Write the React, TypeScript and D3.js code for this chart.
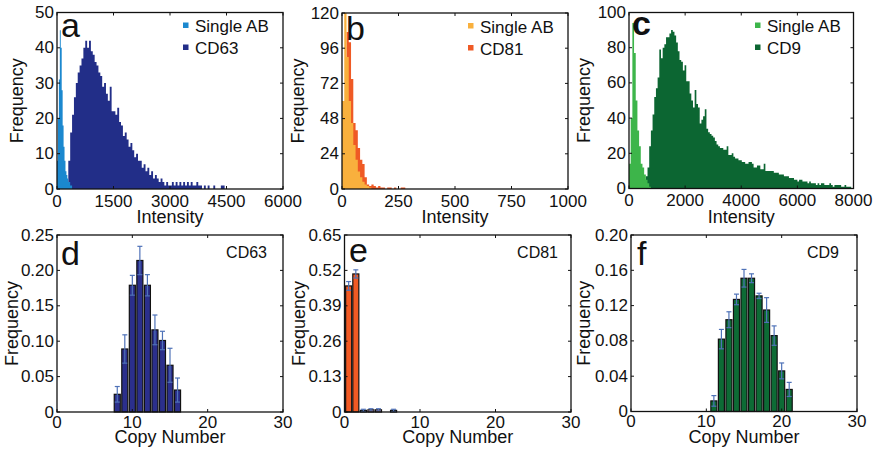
import React from "react";
import * as d3 from "d3";

const FONT = "'Liberation Sans', Arial, Helvetica, sans-serif";

// ---------- Panel a (CD63 intensity histogram) ----------
const aSingleStart = 0;
const aSingleBin = 25;
const aSingleValues = [8, 20, 31, 45, 40, 28, 18, 12, 8, 5, 4, 3, 2, 2, 1, 1];
const aCD63Start = 250;
const aCD63Bin = 50;
const aCD63Values = [
  2, 8, 16, 21, 26, 30, 33, 35, 37, 40, 42, 40, 42, 39, 38, 36, 35, 33, 32, 29,
  30, 27, 25, 29, 22, 22, 21, 23, 19, 18, 15, 16, 14, 12, 13, 11, 9, 10, 8, 8,
  6, 7, 5, 6, 4, 5, 3, 4, 3, 2, 3, 2, 1, 2, 1, 1, 2, 1, 2, 1,
  2, 1, 2, 1, 2, 1, 2, 1, 1, 2, 1, 1, 0, 1, 0, 1, 0, 0, 1, 0,
  0, 0, 1, 1, 0,
];
const aXTicks = [0, 1500, 3000, 4500, 6000];
const aYTicks = [0, 10, 20, 30, 40, 50];

// ---------- Panel b (CD81 intensity histogram) ----------
const bSingleStart = 0;
const bSingleBin = 10;
const bSingleValues = [60, 120, 90, 60, 45, 30, 20, 12, 8, 5, 3, 2, 1];
const bCD81Start = 0;
const bCD81Bin = 10;
const bCD81Values = [
  0, 60, 107, 100, 75, 45, 40, 28, 20, 17, 8, 3, 2, 3, 2, 1, 2, 1, 1, 0,
  1, 1, 0, 1, 0, 0, 1, 1,
];
const bXTicks = [0, 250, 500, 750, 1000];
const bYTicks = [0, 24, 48, 72, 96, 120];

// ---------- Panel c (CD9 intensity histogram) ----------
const cSingleStart = 0;
const cSingleBin = 60;
const cSingleValues = [14, 40, 94, 77, 50, 33, 24, 14, 12, 8, 5, 3, 1];
const cCD9Start = 480;
const cCD9Bin = 60;
const cCD9Values = [
  3, 5, 7, 12, 24, 33, 42, 52, 57, 63, 79, 74, 80, 82, 86, 86, 88, 90, 89, 87,
  83, 78, 73, 72, 67, 70, 61, 61, 54, 50, 46, 56, 48, 46, 37, 39, 41, 45, 34, 32,
  31, 30, 29, 27, 25, 24, 23, 23, 22, 22, 24, 19, 19, 20, 18, 17, 17, 16, 16, 15,
  15, 14, 14, 15, 15, 14, 12, 12, 13, 13, 11, 11, 14, 10, 10, 10, 10, 10, 9, 9,
  9, 8, 8, 8, 7, 7, 7, 6, 6, 6, 5, 5, 4, 5, 5, 4, 4, 4, 3, 4,
  3, 3, 3, 2, 3, 2, 3, 3, 2, 2, 2, 3, 2, 1, 2, 2, 2, 2, 1, 1,
  2, 1, 1, 1, 0,
];
const cXTicks = [0, 2000, 4000, 6000, 8000];
const cYTicks = [0, 20, 40, 60, 80, 100];

// ---------- Panel d (CD63 copy number) ----------
const dCopy = [8, 9, 10, 11, 12, 13, 14, 15, 16];
const dFreq = [0.025, 0.089, 0.179, 0.214, 0.179, 0.116, 0.101, 0.066, 0.031];
const dErr = [0.011, 0.02, 0.014, 0.02, 0.015, 0.021, 0.013, 0.024, 0.017];
const dYTicks = [0, 0.05, 0.1, 0.15, 0.2, 0.25];
const dYLabels = ["0", "0.05", "0.10", "0.15", "0.20", "0.25"];

// ---------- Panel e (CD81 copy number) ----------
const eCopy = [0.55, 1.5, 2.5, 3.5, 4.5, 6.5];
const eFreq = [0.463, 0.507, 0.006, 0.008, 0.008, 0.006];
const eErr = [0.016, 0.015, 0.004, 0.004, 0.004, 0.004];
const eYTicks = [0, 0.13, 0.26, 0.39, 0.52, 0.65];
const eYLabels = ["0", "0.13", "0.26", "0.39", "0.52", "0.65"];

// ---------- Panel f (CD9 copy number) ----------
const fCopy = [11, 12, 13, 14, 15, 16, 17, 18, 19, 20, 21];
const fFreq = [0.012, 0.082, 0.104, 0.127, 0.151, 0.151, 0.131, 0.115, 0.086, 0.046, 0.025];
const fErr = [0.006, 0.011, 0.009, 0.006, 0.01, 0.005, 0.003, 0.014, 0.011, 0.009, 0.008];
const fYTicks = [0, 0.04, 0.08, 0.12, 0.16, 0.2];
const fYLabels = ["0", "0.04", "0.08", "0.12", "0.16", "0.20"];

const copyXTicks = [0, 10, 20, 30];

type Series = { start: number; bin: number; values: number[]; color: string };

type Box = { x0: number; x1: number; y0: number; y1: number };

function Frame({ box, xs, ys, xTicks, yTicks, yLabels, xLabelDy, freqX, xTitle, xTitleDy }: any) {
  const tl = 3;
  return (
    <g>
      <rect x={box.x0} y={box.y0} width={box.x1 - box.x0} height={box.y1 - box.y0} fill="none" stroke="#111" strokeWidth={1.3} />
      {xTicks.map((t: number, i: number) => (
        <g key={"x" + i}>
          <line x1={xs(t)} x2={xs(t)} y1={box.y1} y2={box.y1 - tl} stroke="#111" strokeWidth={1} />
          <line x1={xs(t)} x2={xs(t)} y1={box.y0} y2={box.y0 + tl} stroke="#111" strokeWidth={1} />
          <text x={xs(t)} y={box.y1 + xLabelDy} textAnchor="middle" dominantBaseline="central" fontSize={17} fontFamily={FONT} fill="#111">
            {String(t)}
          </text>
        </g>
      ))}
      {yTicks.map((t: number, i: number) => (
        <g key={"y" + i}>
          <line x1={box.x0} x2={box.x0 + tl} y1={ys(t)} y2={ys(t)} stroke="#111" strokeWidth={1} />
          <line x1={box.x1} x2={box.x1 - tl} y1={ys(t)} y2={ys(t)} stroke="#111" strokeWidth={1} />
          <text x={box.x0 - 3} y={ys(t)} textAnchor="end" dominantBaseline="central" fontSize={17} fontFamily={FONT} fill="#111">
            {yLabels ? yLabels[i] : String(t)}
          </text>
        </g>
      ))}
      <text x={(box.x0 + box.x1) / 2} y={box.y1 + xTitleDy} textAnchor="middle" fontSize={18} fontFamily={FONT} fill="#111">
        {xTitle}
      </text>
      <text
        transform={`translate(${freqX},${(box.y0 + box.y1) / 2}) rotate(-90)`}
        textAnchor="middle"
        dominantBaseline="central"
        fontSize={18}
        fontFamily={FONT}
        fill="#111"
      >
        Frequency
      </text>
    </g>
  );
}

function HistPanel({ id, box, xMax, yMax, xTicks, yTicks, series, legend, legendX, letter, letterX, letterY, letterWeight, freqX }: any) {
  const xs = d3.scaleLinear().domain([0, xMax]).range([box.x0, box.x1]);
  const ys = d3.scaleLinear().domain([0, yMax]).range([box.y1, box.y0]);
  const area = d3
    .area<[number, number]>()
    .x((d) => xs(d[0]))
    .y0(ys(0))
    .y1((d) => ys(d[1]))
    .curve(d3.curveStepAfter);
  return (
    <g>
      <defs>
        <clipPath id={"clip" + id}>
          <rect x={box.x0} y={box.y0} width={box.x1 - box.x0} height={box.y1 - box.y0} />
        </clipPath>
      </defs>
      <g clipPath={`url(#clip${id})`}>
        {series.map((s: Series, i: number) => {
          const pts: [number, number][] = s.values.map((v, k) => [s.start + k * s.bin, v]);
          pts.push([s.start + s.values.length * s.bin, 0]);
          return <path key={i} d={area(pts) || ""} fill={s.color} stroke="none" />;
        })}
      </g>
      <Frame box={box} xs={xs} ys={ys} xTicks={xTicks} yTicks={yTicks} xLabelDy={12} freqX={freqX} xTitle="Intensity" xTitleDy={34} />
      {legend.map((l: any, i: number) => (
        <g key={i}>
          <rect x={legendX} y={box.y0 + 10 + i * 22} width={5.5} height={5.5} fill={l.color} />
          <text x={legendX + 12} y={box.y0 + 14 + i * 22} dominantBaseline="central" fontSize={17} fontFamily={FONT} fill="#111">
            {l.label}
          </text>
        </g>
      ))}
      <text x={letterX} y={letterY} fontSize={34} fontWeight={letterWeight || "normal"} fontFamily={FONT} fill="#111">
        {letter}
      </text>
    </g>
  );
}

function BarPanel({ box, yMax, yTicks, yLabels, copy, freq, err, color, name, letter, letterX, letterY, freqX, nameX }: any) {
  const xs = d3.scaleLinear().domain([0, 30]).range([box.x0, box.x1]);
  const ys = d3.scaleLinear().domain([0, yMax]).range([box.y1, box.y0]);
  const bw = xs(0.8) - xs(0);
  const cap = 2.5;
  const errColor = "#4f72b8";
  return (
    <g>
      {copy.map((c: number, i: number) => (
        <rect key={"b" + i} x={xs(c) - bw / 2} y={ys(freq[i])} width={bw} height={ys(0) - ys(freq[i])} fill={color} stroke="#111" strokeWidth={1.2} />
      ))}
      {copy.map((c: number, i: number) => {
        const top = ys(freq[i] + err[i]);
        const bot = ys(Math.max(0, freq[i] - err[i]));
        return (
          <g key={"e" + i} stroke={errColor} strokeWidth={1.2}>
            <line x1={xs(c)} x2={xs(c)} y1={top} y2={bot} />
            <line x1={xs(c) - cap} x2={xs(c) + cap} y1={top} y2={top} />
            <line x1={xs(c) - cap} x2={xs(c) + cap} y1={bot} y2={bot} />
          </g>
        );
      })}
      <Frame box={box} xs={xs} ys={ys} xTicks={copyXTicks} yTicks={yTicks} yLabels={yLabels} xLabelDy={10} freqX={freqX} xTitle="Copy Number" xTitleDy={31} />
      <text x={nameX} y={box.y0 + 23} textAnchor="end" fontSize={16} fontFamily={FONT} fill="#111">
        {name}
      </text>
      <text x={letterX} y={letterY} fontSize={34} fontFamily={FONT} fill="#111">
        {letter}
      </text>
    </g>
  );
}

export default function App() {
  const boxA: Box = { x0: 57, x1: 283, y0: 12.5, y1: 189 };
  const boxB: Box = { x0: 342, x1: 568, y0: 13, y1: 189 };
  const boxC: Box = { x0: 629, x1: 853.5, y0: 12.5, y1: 188.5 };
  const boxD: Box = { x0: 57, x1: 283, y0: 235, y1: 412 };
  const boxE: Box = { x0: 344.5, x1: 571, y0: 235, y1: 412 };
  const boxF: Box = { x0: 631, x1: 857, y0: 235, y1: 411.5 };
  return (
    <svg width={875} height={450} style={{ position: "absolute", left: 0, top: 0, background: "#fff" }}>
      <rect x={0} y={0} width={875} height={450} fill="#fff" />
      <HistPanel
        id="a"
        box={boxA}
        xMax={6000}
        yMax={50}
        xTicks={aXTicks}
        yTicks={aYTicks}
        series={[
          { start: aCD63Start, bin: aCD63Bin, values: aCD63Values, color: "#222e88" },
          { start: aSingleStart, bin: aSingleBin, values: aSingleValues, color: "#1b88cf" },
        ]}
        legend={[
          { label: "Single AB", color: "#1b88cf" },
          { label: "CD63", color: "#222e88" },
        ]}
        legendX={183}
        letter="a"
        letterX={61}
        letterY={37}
        freqX={17}
      />
      <HistPanel
        id="b"
        box={boxB}
        xMax={1000}
        yMax={120}
        xTicks={bXTicks}
        yTicks={bYTicks}
        series={[
          { start: bCD81Start, bin: bCD81Bin, values: bCD81Values, color: "#ef5a25" },
          { start: bSingleStart, bin: bSingleBin, values: bSingleValues, color: "#f9b03d" },
        ]}
        legend={[
          { label: "Single AB", color: "#f9b03d" },
          { label: "CD81", color: "#ef5a25" },
        ]}
        legendX={468}
        letter="b"
        letterX={346}
        letterY={40}
        freqX={298}
      />
      <HistPanel
        id="c"
        box={boxC}
        xMax={8000}
        yMax={100}
        xTicks={cXTicks}
        yTicks={cYTicks}
        series={[
          { start: cCD9Start, bin: cCD9Bin, values: cCD9Values, color: "#0c6632" },
          { start: cSingleStart, bin: cSingleBin, values: cSingleValues, color: "#3db54a" },
        ]}
        legend={[
          { label: "Single AB", color: "#3db54a" },
          { label: "CD9", color: "#0c6632" },
        ]}
        legendX={755}
        letter="c"
        letterX={632}
        letterY={35}
        letterWeight="bold"
        freqX={584}
      />
      <BarPanel
        box={boxD}
        yMax={0.25}
        yTicks={dYTicks}
        yLabels={dYLabels}
        copy={dCopy}
        freq={dFreq}
        err={dErr}
        color="#2b2f8c"
        name="CD63"
        nameX={267}
        letter="d"
        letterX={61}
        letterY={265}
        freqX={12}
      />
      <BarPanel
        box={boxE}
        yMax={0.65}
        yTicks={eYTicks}
        yLabels={eYLabels}
        copy={eCopy}
        freq={eFreq}
        err={eErr}
        color="#f15a24"
        name="CD81"
        nameX={558}
        letter="e"
        letterX={349}
        letterY={262}
        freqX={299}
      />
      <BarPanel
        box={boxF}
        yMax={0.2}
        yTicks={fYTicks}
        yLabels={fYLabels}
        copy={fCopy}
        freq={fFreq}
        err={fErr}
        color="#0d6b35"
        name="CD9"
        nameX={839}
        letter="f"
        letterX={637}
        letterY={265}
        freqX={584}
      />
    </svg>
  );
}
